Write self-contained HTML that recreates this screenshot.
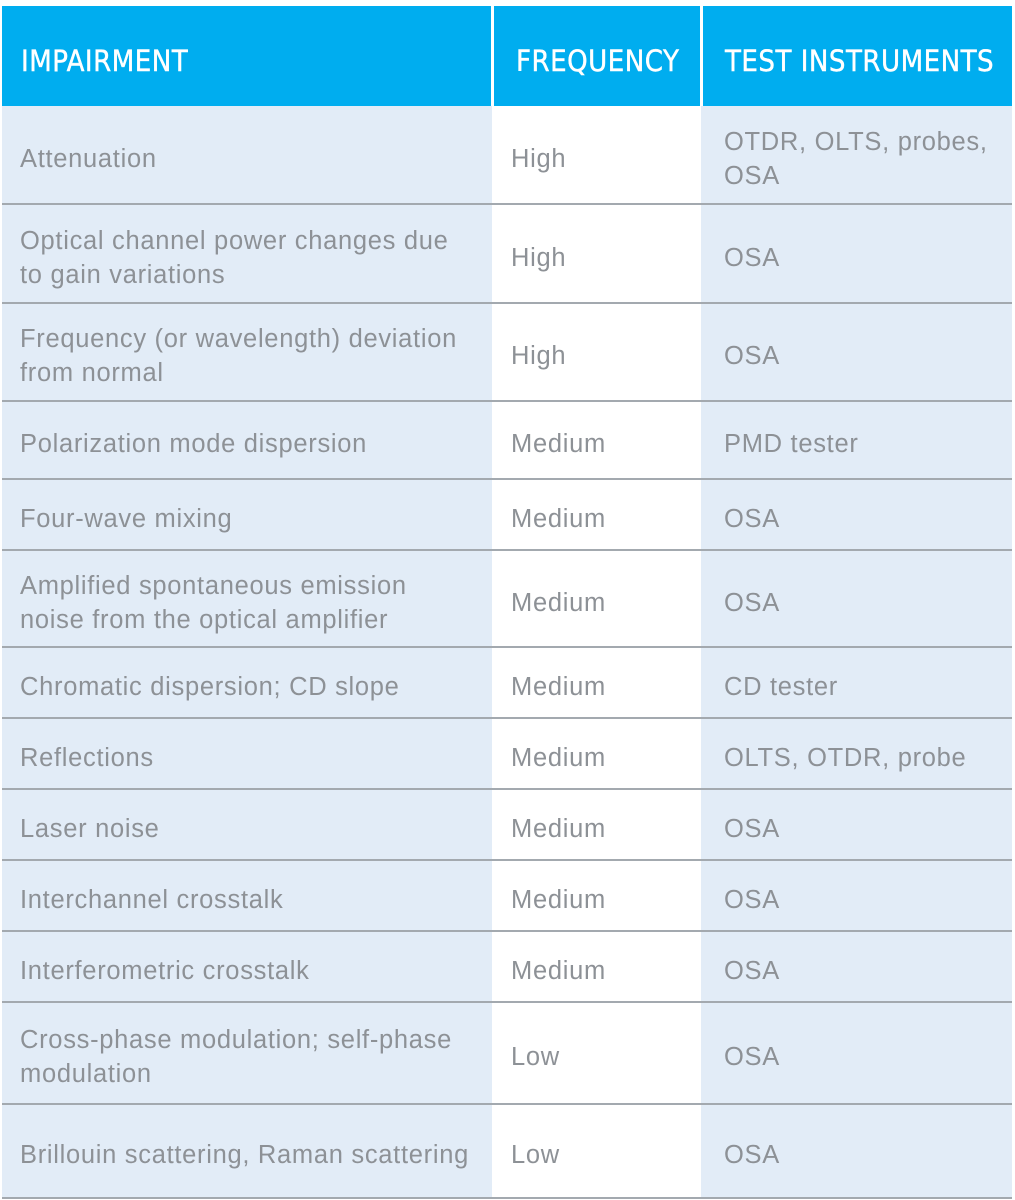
<!DOCTYPE html>
<html><head><meta charset="utf-8"><style>
body{margin:0;background:#fff;width:1015px;height:1200px;position:relative;overflow:hidden;font-family:"Liberation Sans",sans-serif}
.hd{position:absolute;top:6px;height:100px;background:#00adef;color:#fff;font-family:"DejaVu Sans Condensed","Liberation Sans Narrow",sans-serif;font-size:29px;letter-spacing:0.5px;white-space:nowrap;display:flex;align-items:center;box-sizing:border-box;padding-left:19px;padding-top:9px;-webkit-text-stroke:0.4px #fff}
.c1,.c3{position:absolute;background:#e2ecf7}
.c2{position:absolute;background:#fff}
.row{position:absolute;left:2px;width:1010px;border-bottom:2px solid #a3a9af;box-sizing:border-box}
.t{position:absolute;color:#8d9196;font-size:25.5px;line-height:34px;letter-spacing:0.7px;white-space:nowrap;display:flex;align-items:center;box-sizing:border-box;padding-top:8px}
</style></head><body>
<div class="hd" style="left:2px;width:489px">IMPAIRMENT</div>
<div class="hd" style="left:494px;width:206px;padding-left:22px">FREQUENCY</div>
<div class="hd" style="left:703px;width:309px;padding-left:22px">TEST INSTRUMENTS</div>
<div class="c1" style="left:2px;top:106px;width:490px;height:1093px"></div>
<div class="c2" style="left:492px;top:106px;width:209px;height:1093px"></div>
<div class="c3" style="left:701px;top:106px;width:311px;height:1093px"></div>
<div id="rows"></div>
<script>
var rows=[[106,205,"Attenuation","High","OTDR, OLTS, probes,<br>OSA"],
[205,304,"Optical channel power changes due<br>to gain variations","High","OSA"],
[304,402,"Frequency (or wavelength) deviation<br>from normal","High","OSA"],
[402,480,"Polarization mode dispersion","Medium","PMD tester"],
[480,551,"Four-wave mixing","Medium","OSA"],
[551,648,"Amplified spontaneous emission<br>noise from the optical amplifier","Medium","OSA"],
[648,719,"Chromatic dispersion; CD slope","Medium","CD tester"],
[719,790,"Reflections","Medium","OLTS, OTDR, probe"],
[790,861,"Laser noise","Medium","OSA"],
[861,932,"Interchannel crosstalk","Medium","OSA"],
[932,1003,"Interferometric crosstalk","Medium","OSA"],
[1003,1105,"Cross-phase modulation; self-phase<br>modulation","Low","OSA"],
[1105,1199,"Brillouin scattering, Raman scattering","Low","OSA"]];
var h="";
rows.forEach(function(r){var t=r[0],b=r[1],ht=b-t;
h+='<div class="row" style="top:'+t+'px;height:'+ht+'px"></div>';
h+='<div class="t" style="left:20px;top:'+t+'px;height:'+(ht-2)+'px">'+r[2]+'</div>';
h+='<div class="t" style="left:511px;top:'+t+'px;height:'+(ht-2)+'px">'+r[3]+'</div>';
h+='<div class="t" style="left:724px;top:'+t+'px;height:'+(ht-2)+'px">'+r[4]+'</div>';});
document.getElementById("rows").innerHTML=h;
</script>
</body></html>
